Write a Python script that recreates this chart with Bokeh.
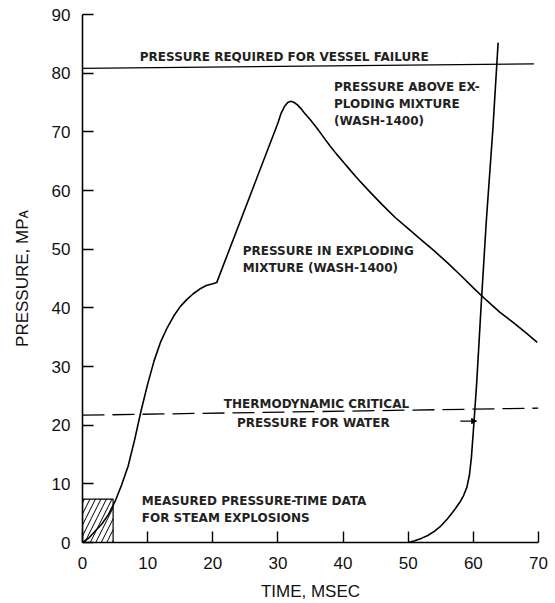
from bokeh.plotting import figure
from bokeh.models import Range1d, Label, Arrow, NormalHead, FixedTicker
from bokeh.embed import file_html
from bokeh.resources import INLINE

# ---- data ----
x_ticks = [0, 10, 20, 30, 40, 50, 60, 70]
y_ticks = [0, 10, 20, 30, 40, 50, 60, 70, 80, 90]

# pressure in exploding mixture (WASH-1400)
mix_t = [0, 1, 2, 3, 4, 5, 6, 7, 8, 9, 10, 11, 12, 13, 14, 15, 16, 17, 18, 19, 20, 20.6,
         30.0, 30.5, 31, 31.5, 32, 32.5, 33, 33.5, 34, 35, 36, 37, 38, 39, 40, 41, 42,
         44, 46, 48, 50, 52, 54, 56, 58, 60, 62, 64, 66, 68, 69.8]
mix_p = [0, 0.8, 2.0, 3.2, 4.8, 7.0, 9.8, 13.0, 17.5, 22.5, 27.0, 31.0, 34.2, 36.6,
         38.6, 40.2, 41.4, 42.4, 43.2, 43.8, 44.1, 44.3,
         71.5, 73.2, 74.3, 75.0, 75.2, 75.0, 74.6, 74.0, 73.3, 72.0, 70.6, 69.1, 67.6,
         66.2, 64.9, 63.6, 62.3, 59.9, 57.6, 55.4, 53.5, 51.6, 49.7, 47.7, 45.6, 43.4,
         41.3, 39.3, 37.6, 35.8, 34.1]

# pressure above exploding mixture (WASH-1400)
above_t = [50, 51, 52, 53, 54, 55, 56, 57, 58, 58.5, 59, 59.4, 59.7, 60, 60.5,
           61.2, 62, 63, 63.8]
above_p = [0, 0.3, 0.7, 1.2, 1.9, 2.8, 4.0, 5.4, 7.0, 8.0, 9.4, 11.5, 14.5, 19.0,
           27.0, 40.5, 55.0, 70.5, 85.2]

# reference pressures
vessel_t = [0, 69.3]
vessel_p = [80.8, 81.6]
critical_t = [0, 70]
critical_p = [21.7, 22.9]

# measured pressure-time data box
box_t = [0, 4.7]
box_p = [0, 7.4]

# ---- figure ----
p = figure(width=555, height=603, output_backend="svg", toolbar_location=None,
           x_range=Range1d(0, 70), y_range=Range1d(0, 90),
           min_border_left=82, min_border_right=17, min_border_top=14, min_border_bottom=59)
p.outline_line_color = None
p.grid.grid_line_color = None
p.background_fill_color = "white"
p.border_fill_color = "white"

for ax in (p.xaxis[0], p.yaxis[0]):
    ax.major_tick_in = 11
    ax.major_tick_out = 0
    ax.minor_tick_line_color = None
    ax.axis_line_width = 1.6
    ax.major_tick_line_width = 1.4
    ax.axis_line_color = "black"
    ax.major_tick_line_color = "black"
    ax.major_label_text_font = "Liberation Sans"
    ax.major_label_text_font_size = "17px"
    ax.major_label_text_color = "#111111"
    ax.axis_label_text_font = "Liberation Sans"
    ax.axis_label_text_font_size = "17px"
    ax.axis_label_text_font_style = "normal"
    ax.axis_label_text_color = "#111111"

p.xaxis.ticker = FixedTicker(ticks=x_ticks)
p.yaxis.ticker = FixedTicker(ticks=y_ticks)
p.xaxis.axis_label = "TIME, MSEC"
p.yaxis.axis_label = "PRESSURE, MPᴀ"
p.xaxis.major_label_standoff = 14
p.yaxis.major_label_standoff = 12
p.xaxis.axis_label_standoff = 10
p.yaxis.axis_label_standoff = 17

# hatched box
p.quad(left=box_t[0], right=box_t[1], bottom=box_p[0], top=box_p[1],
       fill_alpha=0, line_color="black", line_width=1.2,
       hatch_pattern="/", hatch_color="black", hatch_scale=11, hatch_weight=1)

# reference lines
p.line(vessel_t, vessel_p, line_color="black", line_width=1.3)
p.line(critical_t, critical_p, line_color="black", line_width=1.3, line_dash="22 8")

# curves
p.line(mix_t, mix_p, line_color="black", line_width=1.6, line_join="round")
p.line(above_t, above_p, line_color="black", line_width=1.6, line_join="round")

# small arrow pointing at intersection
p.add_layout(Arrow(x_start=58.0, y_start=20.7, x_end=60.5, y_end=20.7,
                   line_color="black", line_width=1.3,
                   end=NormalHead(size=5, fill_color="black", line_color="black")))

# annotations
def note(x, y, txt):
    p.add_layout(Label(x=x, y=y, text=txt, text_font="DejaVu Sans", text_font_size="12px",
                       text_font_style="bold", text_color="#222222",
                       text_baseline="middle", text_align="left"))

note(8.8, 82.8, "PRESSURE REQUIRED FOR VESSEL FAILURE")
note(38.6, 77.6, "PRESSURE ABOVE EX-")
note(38.6, 74.8, "PLODING MIXTURE")
note(38.6, 71.8, "(WASH-1400)")
note(24.6, 49.7, "PRESSURE IN EXPLODING")
note(24.6, 46.8, "MIXTURE (WASH-1400)")
note(21.7, 23.6, "THERMODYNAMIC CRITICAL")
note(23.7, 20.4, "PRESSURE FOR WATER")
note(9.1, 7.0, "MEASURED PRESSURE-TIME DATA")
note(9.1, 4.1, "FOR STEAM EXPLOSIONS")

open("out.html", "w").write(file_html(p, INLINE))
